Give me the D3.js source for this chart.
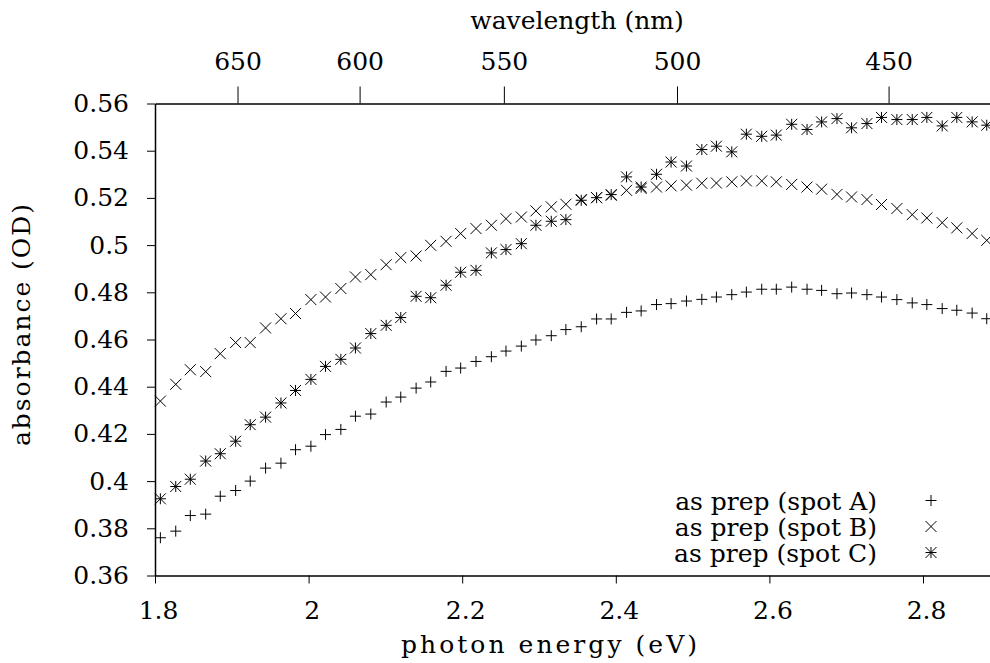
<!DOCTYPE html>
<html>
<head>
<meta charset="utf-8">
<script src="https://cdn.jsdelivr.net/npm/d3@7"></script>
<style>
body { margin: 0; background: #fff; }
svg text { font-family: "DejaVu Serif", serif; font-size: 25px; fill: #000; }
</style>
</head>
<body>
<svg id="chart" width="990" height="663"></svg>
<script>
// photon energy of each measured point (eV)
const energies = [1.807, 1.827, 1.846, 1.866, 1.885, 1.905, 1.924, 1.944, 1.964, 1.983,
    2.003, 2.022, 2.042, 2.061, 2.081, 2.101, 2.120, 2.140, 2.159, 2.179,
    2.198, 2.218, 2.238, 2.257, 2.277, 2.296, 2.316, 2.335, 2.355, 2.375,
    2.394, 2.414, 2.433, 2.453, 2.472, 2.492, 2.512, 2.531, 2.551, 2.570,
    2.590, 2.609, 2.629, 2.649, 2.668, 2.688, 2.707, 2.727, 2.746, 2.766,
    2.786, 2.805, 2.825, 2.844, 2.864, 2.883];

const spotA = [0.3760, 0.3788, 0.3854, 0.3860, 0.3936, 0.3960, 0.4000, 0.4055, 0.4076, 0.4133,
    0.4148, 0.4197, 0.4219, 0.4275, 0.4284, 0.4335, 0.4356, 0.4394, 0.4420, 0.4465,
    0.4479, 0.4507, 0.4527, 0.4551, 0.4572, 0.4598, 0.4616, 0.4642, 0.4654, 0.4687,
    0.4687, 0.4715, 0.4721, 0.4748, 0.4752, 0.4763, 0.4770, 0.4780, 0.4790, 0.4801,
    0.4813, 0.4813, 0.4822, 0.4813, 0.4808, 0.4794, 0.4797, 0.4790, 0.4780, 0.4769,
    0.4755, 0.4748, 0.4731, 0.4724, 0.4712, 0.4688];

const spotB = [0.4339, 0.4410, 0.4472, 0.4464, 0.4540, 0.4587, 0.4587, 0.4649, 0.4688, 0.4710,
    0.4769, 0.4780, 0.4816, 0.4865, 0.4875, 0.4917, 0.4947, 0.4954, 0.4999, 0.5016,
    0.5049, 0.5070, 0.5084, 0.5112, 0.5119, 0.5145, 0.5162, 0.5173, 0.5193, 0.5201,
    0.5211, 0.5232, 0.5240, 0.5246, 0.5251, 0.5254, 0.5262, 0.5263, 0.5268, 0.5272,
    0.5272, 0.5268, 0.5257, 0.5246, 0.5237, 0.5215, 0.5204, 0.5193, 0.5172, 0.5155,
    0.5129, 0.5115, 0.5095, 0.5073, 0.5049, 0.5020];

const spotC = [0.3925, 0.3977, 0.4008, 0.4085, 0.4116, 0.4169, 0.4239, 0.4271, 0.4331, 0.4384,
    0.4431, 0.4486, 0.4516, 0.4564, 0.4625, 0.4660, 0.4693, 0.4783, 0.4777, 0.4830,
    0.4885, 0.4893, 0.4967, 0.4981, 0.5006, 0.5084, 0.5101, 0.5108, 0.5190, 0.5201,
    0.5214, 0.5289, 0.5246, 0.5300, 0.5352, 0.5335, 0.5405, 0.5419, 0.5395, 0.5470,
    0.5461, 0.5466, 0.5512, 0.5490, 0.5522, 0.5536, 0.5497, 0.5515, 0.5541, 0.5532,
    0.5532, 0.5541, 0.5505, 0.5541, 0.5522, 0.5508];

const seriesNames = ["as prep (spot A)", "as prep (spot B)", "as prep (spot C)"];
const xTicks = [1.8, 2, 2.2, 2.4, 2.6, 2.8];
const yTicks = [0.36, 0.38, 0.4, 0.42, 0.44, 0.46, 0.48, 0.5, 0.52, 0.54, 0.56];
const wavelengthTicks = [650, 600, 550, 500, 450];
const HC = 1239.84; // eV nm

let svg = d3.select("#chart");

let x = d3.scaleLinear().domain([1.8, 2.9]).range([155, 999.8]);
let y = d3.scaleLinear().domain([0.36, 0.56]).range([575.5, 103.5]);

// point shapes like gnuplot's pt 1,2,3
const plus = { draw(ctx, r) { ctx.moveTo(-r, 0); ctx.lineTo(r, 0); ctx.moveTo(0, -r); ctx.lineTo(0, r); } };
const times = { draw(ctx, r) { ctx.moveTo(-r, -r); ctx.lineTo(r, r); ctx.moveTo(-r, r); ctx.lineTo(r, -r); } };
const star = { draw(ctx, r) { plus.draw(ctx, r); times.draw(ctx, r); } };

let series = [
    {name: seriesNames[0], values: spotA, shape: plus},
    {name: seriesNames[1], values: spotB, shape: times},
    {name: seriesNames[2], values: spotC, shape: star}
];

// axes
let bottom = svg.append("g")
    .attr("transform", "translate(0,575.5)")
    .call(d3.axisBottom(x).tickValues(xTicks).tickSize(8).tickPadding(18).tickSizeOuter(0).tickFormat(d3.format("")));
bottom.selectAll("text").attr("dx", 3);

svg.append("g")
    .attr("transform", "translate(155,0)")
    .call(d3.axisLeft(y).tickValues(yTicks).tickSize(8).tickPadding(18).tickSizeOuter(0).tickFormat(d3.format("")));

svg.append("g")
    .attr("transform", "translate(0,103.5)")
    .call(d3.axisTop(x)
        .tickValues(wavelengthTicks.map(w => HC / w))
        .tickSize(17).tickPadding(17).tickSizeOuter(0)
        .tickFormat(e => Math.round(HC / e)));

svg.selectAll(".domain").attr("stroke", "#000").attr("stroke-width", 1.5);
svg.selectAll(".tick line").attr("stroke", "#000");
svg.selectAll("g").attr("font-size", null).attr("font-family", null);

// axis titles
svg.append("text").attr("x", 577).attr("y", 29).attr("text-anchor", "middle").text("wavelength (nm)");
svg.append("text")
    .attr("x", 549).attr("y", 653)
    .attr("text-anchor", "middle")
    .attr("font-size", 26)
    .attr("textLength", 296)
    .attr("lengthAdjust", "spacing")
    .text("photon energy (eV)");
svg.append("text")
    .attr("transform", "translate(30,325) rotate(-90)")
    .attr("text-anchor", "middle")
    .attr("font-size", 26)
    .attr("textLength", 242)
    .attr("lengthAdjust", "spacing")
    .text("absorbance (OD)");

// points
let sym = d3.symbol().size(5.5);
series.forEach(s => {
    svg.append("g")
        .selectAll("path")
        .data(s.values)
        .join("path")
        .attr("transform", (d, i) => `translate(${x(energies[i])},${y(d)})`)
        .attr("d", sym.type(s.shape)())
        .attr("fill", "none")
        .attr("stroke", "#000")
        .attr("stroke-width", 1);
});

// legend
let legend = svg.append("g");
series.forEach((s, i) => {
    legend.append("text")
        .attr("x", 877)
        .attr("y", 510 + i * 26)
        .attr("text-anchor", "end")
        .text(s.name);
    legend.append("path")
        .attr("transform", `translate(931,${500.5 + i * 26})`)
        .attr("d", sym.type(s.shape)())
        .attr("fill", "none")
        .attr("stroke", "#000");
});
</script>
</body>
</html>
